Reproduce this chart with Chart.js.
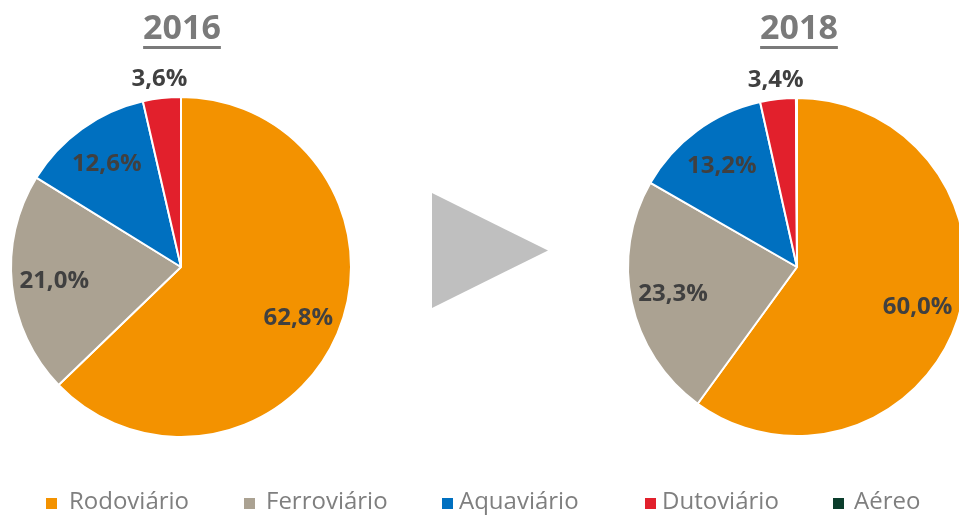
<!DOCTYPE html>
<html><head><meta charset="utf-8">
<script src="https://cdn.jsdelivr.net/npm/chart.js@4.4.0/dist/chart.umd.min.js"></script>
<style>
html,body{margin:0;padding:0;background:#fff;}
#wrap{position:relative;width:959px;height:516px;overflow:hidden;background:#fff;}
canvas{position:absolute;left:0;top:0;}
.title{position:absolute;top:3px;width:200px;text-align:center;font-family:"Open Sans";font-weight:bold;font-size:34px;line-height:46px;color:#7a7a7a;text-decoration:underline;text-decoration-thickness:3px;text-underline-offset:7px;}
#arrow{position:absolute;left:432px;top:193px;width:116px;height:115px;background:#bfbfbf;clip-path:polygon(0 0,100% 50%,0 100%);}
.leg{position:absolute;top:483px;font-family:"Open Sans";font-size:24px;line-height:33px;color:#7f7f7f;white-space:nowrap;}
.sw{position:absolute;top:498px;width:11px;height:11px;}
</style>
</head><body>
<div id="wrap">
  <div id="arrow"></div>
  <canvas id="c1" width="1000" height="516"></canvas>
  <canvas id="c2" width="1000" height="516"></canvas>
  <div class="title" id="t1" style="left:82px;"></div>
  <div class="title" id="t2" style="left:699px;"></div>
  <div id="legend"></div>
</div>
<script>
const categories = ["Rodoviário", "Ferroviário", "Aquaviário", "Dutoviário", "Aéreo"];
const years = ["2016", "2018"];
const values2016 = [62.8, 21.0, 12.6, 3.6, 0.0];
const values2018 = [60.0, 23.3, 13.2, 3.4, 0.1];
const colors = ["#F39200", "#ABA292", "#0070C0", "#E2202C", "#0B3D2C"];

document.getElementById('t1').textContent = years[0];
document.getElementById('t2').textContent = years[1];

// legend (HTML text)
const swLeft = [46, 244, 442, 645, 833];
const txtLeft = [69, 266, 459, 662, 854];
const leg = document.getElementById('legend');
categories.forEach((c, i) => {
  const s = document.createElement('div');
  s.className = 'sw'; s.style.left = swLeft[i] + 'px'; s.style.background = colors[i];
  leg.appendChild(s);
  const t = document.createElement('div');
  t.className = 'leg'; t.style.left = txtLeft[i] + 'px'; t.textContent = c;
  leg.appendChild(t);
});

const pctLabels = {
  id: 'pctLabels',
  afterDatasetsDraw(chart) {
    const ctx = chart.ctx;
    const meta = chart.getDatasetMeta(0);
    const data = chart.data.datasets[0].data;
    ctx.save();
    ctx.font = 'bold 24px "Open Sans"';
    ctx.fillStyle = '#404040';
    ctx.textAlign = 'center';
    ctx.textBaseline = 'middle';
    meta.data.forEach((arc, i) => {
      const v = data[i];
      if (v < 1) return;
      const p = arc.getProps(['x', 'y', 'startAngle', 'endAngle', 'outerRadius'], true);
      const mid = (p.startAngle + p.endAngle) / 2;
      const f = v < 5 ? 1.12 : 0.75;
      const x = p.x + Math.cos(mid) * p.outerRadius * f;
      const y = p.y + Math.sin(mid) * p.outerRadius * f;
      ctx.fillText(v.toFixed(1).replace('.', ',') + '%', x, y + 1);
    });
    ctx.restore();
  }
};

function makePie(id, values, padding) {
  return new Chart(document.getElementById(id), {
    type: 'pie',
    data: {
      labels: categories,
      datasets: [{ data: values, backgroundColor: colors, borderColor: '#ffffff', borderWidth: 2 }]
    },
    options: {
      responsive: false,
      animation: false,
      devicePixelRatio: 1,
      layout: { padding: padding },
      plugins: { legend: { display: false }, tooltip: { enabled: false } }
    },
    plugins: [pctLabels]
  });
}

makePie('c1', values2016, { left: 10, right: 648, top: 96, bottom: 78 });
makePie('c2', values2018, { left: 627, right: 33, top: 97, bottom: 79 });
</script>
</body></html>
